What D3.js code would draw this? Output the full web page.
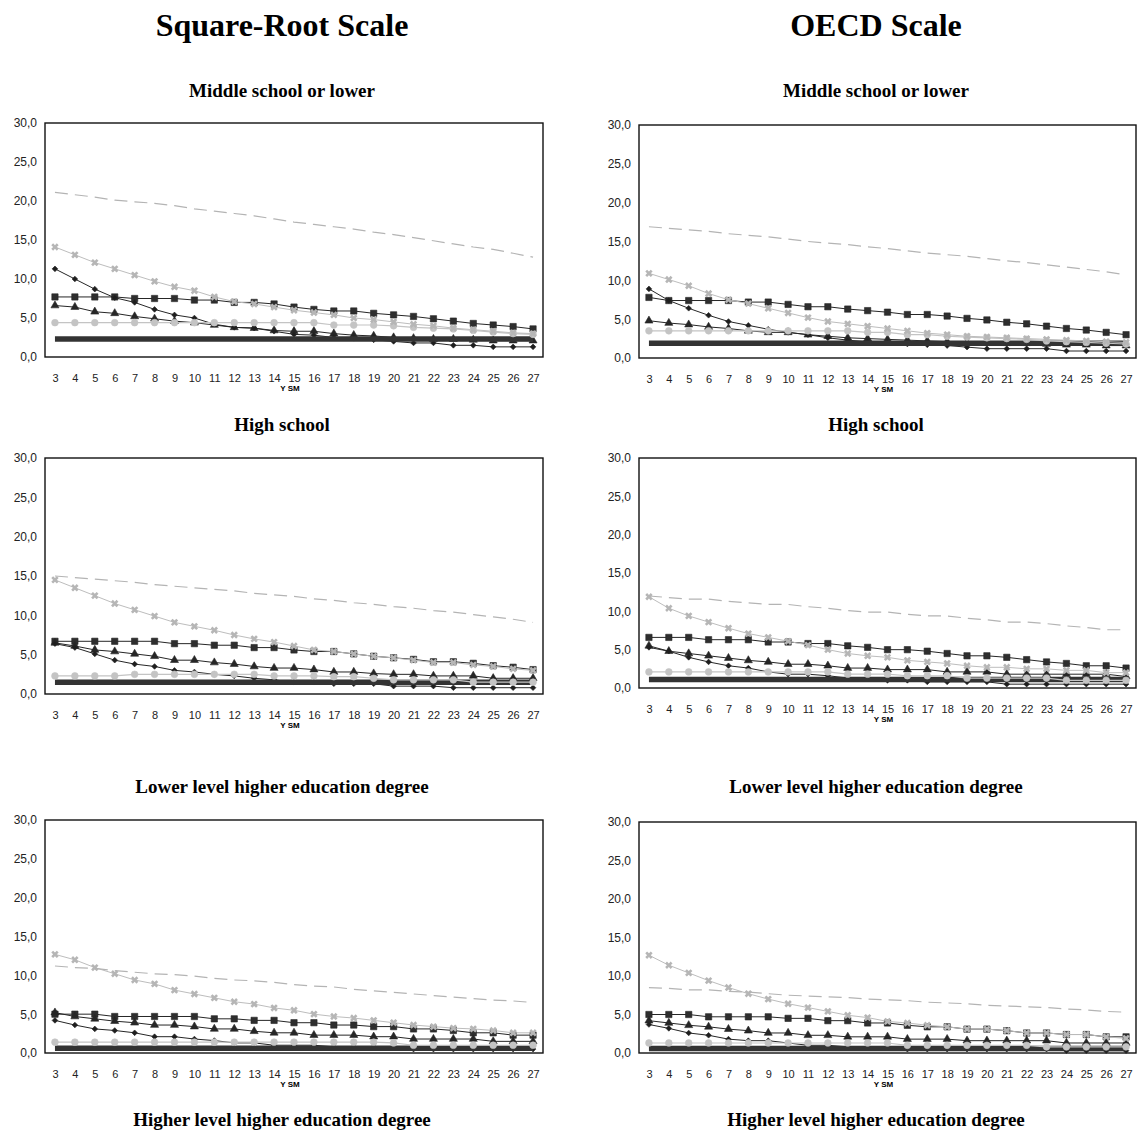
<!DOCTYPE html>
<html>
<head>
<meta charset="utf-8">
<script src="https://cdn.jsdelivr.net/npm/d3@7"></script>
<style>
  body { margin: 0; background: #fff; }
  svg { display: block; }
</style>
</head>
<body>
<svg width="1142" height="1135"></svg>
<script>
'use strict';

const years = [3, 4, 5, 6, 7, 8, 9, 10, 11, 12, 13, 14, 15, 16, 17, 18, 19, 20, 21, 22, 23, 24, 25, 26, 27];
const yTicks = [0, 5, 10, 15, 20, 25, 30];

const scaleTitles = ['Square-Root Scale', 'OECD Scale'];
const levelTitles = ['Middle school or lower', 'High school', 'Lower level higher education degree', 'Higher level higher education degree'];

// series order in every panel: dashed, cross, square, triangle, diamond, circle, thick
const seriesKeys = ['dash', 'cross', 'square', 'triangle', 'diamond', 'circle', 'thick'];

const srMiddle = [
	[21.1, 20.8, 20.5, 20.1, 19.9, 19.7, 19.4, 19.0, 18.7, 18.4, 18.1, 17.7, 17.3, 17.0, 16.7, 16.4, 16.0, 15.7, 15.3, 14.9, 14.5, 14.1, 13.8, 13.3, 12.8],
	[14.1, 13.1, 12.1, 11.3, 10.5, 9.7, 9.0, 8.5, 7.7, 7.1, 6.8, 6.4, 6.0, 5.7, 5.4, 5.0, 4.8, 4.5, 4.2, 4.0, 3.7, 3.5, 3.3, 3.1, 3.0],
	[7.7, 7.7, 7.7, 7.7, 7.5, 7.5, 7.5, 7.3, 7.3, 7.0, 7.0, 6.8, 6.4, 6.1, 5.9, 5.9, 5.6, 5.4, 5.2, 4.9, 4.6, 4.3, 4.1, 3.9, 3.6],
	[6.6, 6.4, 5.8, 5.6, 5.2, 4.9, 4.6, 4.4, 4.1, 3.8, 3.7, 3.4, 3.3, 3.3, 3.0, 2.8, 2.7, 2.5, 2.4, 2.3, 2.3, 2.2, 2.1, 2.1, 2.1],
	[11.3, 10.0, 8.7, 7.6, 7.0, 6.1, 5.4, 5.0, 4.2, 3.8, 3.7, 3.3, 2.9, 2.8, 2.5, 2.4, 2.2, 2.0, 1.8, 1.8, 1.5, 1.5, 1.3, 1.3, 1.3],
	[4.4, 4.4, 4.4, 4.4, 4.4, 4.4, 4.4, 4.4, 4.4, 4.4, 4.4, 4.4, 4.4, 4.4, 4.1, 4.1, 4.1, 4.0, 3.8, 3.7, 3.6, 3.4, 3.2, 3.0, 2.9],
	[2.3, 2.3, 2.3, 2.3, 2.3, 2.3, 2.3, 2.3, 2.3, 2.3, 2.3, 2.3, 2.3, 2.3, 2.3, 2.3, 2.3, 2.3, 2.3, 2.3, 2.3, 2.3, 2.3, 2.3, 2.3]
];

const oecdMiddle = [
	[16.9, 16.7, 16.5, 16.3, 16.0, 15.8, 15.6, 15.3, 15.0, 14.8, 14.6, 14.3, 14.1, 13.8, 13.5, 13.3, 13.1, 12.8, 12.5, 12.3, 12.0, 11.7, 11.4, 11.1, 10.7],
	[10.9, 10.1, 9.3, 8.3, 7.5, 7.0, 6.4, 5.8, 5.2, 4.7, 4.4, 4.1, 3.8, 3.5, 3.2, 3.0, 2.8, 2.7, 2.6, 2.5, 2.4, 2.3, 2.2, 2.1, 2.0],
	[7.8, 7.4, 7.4, 7.4, 7.4, 7.2, 7.2, 6.9, 6.6, 6.6, 6.3, 6.1, 5.9, 5.6, 5.6, 5.4, 5.1, 4.9, 4.6, 4.4, 4.1, 3.8, 3.6, 3.3, 3.0],
	[4.8, 4.5, 4.3, 4.0, 3.8, 3.5, 3.3, 3.3, 3.0, 2.8, 2.6, 2.5, 2.4, 2.3, 2.2, 2.1, 2.0, 2.0, 1.9, 1.9, 1.8, 1.7, 1.7, 1.6, 1.6],
	[8.9, 7.4, 6.4, 5.5, 4.7, 4.2, 3.7, 3.3, 3.0, 2.6, 2.3, 2.1, 2.0, 1.8, 1.7, 1.6, 1.4, 1.2, 1.2, 1.2, 1.2, 0.9, 0.9, 0.9, 0.9],
	[3.5, 3.5, 3.5, 3.5, 3.5, 3.5, 3.5, 3.5, 3.5, 3.5, 3.5, 3.3, 3.3, 3.0, 3.0, 2.8, 2.7, 2.6, 2.5, 2.4, 2.2, 2.1, 2.0, 1.9, 1.8],
	[1.9, 1.9, 1.9, 1.9, 1.9, 1.9, 1.9, 1.9, 1.9, 1.9, 1.9, 1.9, 1.9, 1.9, 1.9, 1.9, 1.9, 1.9, 1.9, 1.9, 1.9, 1.9, 1.9, 1.9, 1.9]
];

const srHigh = [
	[15.0, 14.8, 14.6, 14.4, 14.2, 13.9, 13.7, 13.5, 13.3, 13.1, 12.8, 12.6, 12.4, 12.1, 11.9, 11.6, 11.4, 11.1, 10.9, 10.6, 10.4, 10.1, 9.8, 9.5, 9.1],
	[14.5, 13.5, 12.5, 11.5, 10.7, 9.9, 9.1, 8.6, 8.1, 7.5, 7.0, 6.6, 6.1, 5.6, 5.4, 5.1, 4.8, 4.6, 4.3, 4.0, 4.0, 3.7, 3.5, 3.2, 3.0],
	[6.7, 6.7, 6.7, 6.7, 6.7, 6.7, 6.4, 6.4, 6.2, 6.2, 5.9, 5.9, 5.6, 5.4, 5.4, 5.1, 4.8, 4.6, 4.4, 4.1, 4.1, 3.9, 3.6, 3.4, 3.1],
	[6.5, 6.1, 5.6, 5.4, 5.1, 4.8, 4.3, 4.3, 4.0, 3.8, 3.5, 3.3, 3.3, 3.1, 2.8, 2.8, 2.6, 2.5, 2.5, 2.3, 2.3, 2.3, 2.0, 2.0, 2.0],
	[6.4, 5.9, 5.1, 4.3, 3.8, 3.5, 3.0, 2.8, 2.5, 2.3, 2.0, 1.8, 1.5, 1.5, 1.3, 1.3, 1.3, 1.0, 1.0, 1.0, 0.8, 0.8, 0.8, 0.8, 0.8],
	[2.3, 2.3, 2.3, 2.3, 2.5, 2.5, 2.5, 2.5, 2.5, 2.5, 2.5, 2.3, 2.3, 2.3, 2.2, 2.2, 2.0, 1.8, 1.8, 1.8, 1.8, 1.5, 1.5, 1.5, 1.5],
	[1.5, 1.5, 1.5, 1.5, 1.5, 1.5, 1.5, 1.5, 1.5, 1.5, 1.5, 1.5, 1.5, 1.5, 1.5, 1.5, 1.5, 1.5, 1.5, 1.5, 1.5, 1.5, 1.5, 1.5, 1.5]
];

const oecdHigh = [
	[12.0, 11.8, 11.6, 11.6, 11.3, 11.1, 10.9, 10.9, 10.6, 10.4, 10.1, 9.9, 9.9, 9.6, 9.4, 9.4, 9.1, 8.9, 8.6, 8.6, 8.4, 8.1, 7.9, 7.6, 7.6],
	[11.9, 10.4, 9.4, 8.6, 7.8, 7.1, 6.6, 6.1, 5.6, 5.0, 4.5, 4.2, 4.0, 3.6, 3.4, 3.2, 2.9, 2.7, 2.7, 2.5, 2.5, 2.3, 2.3, 2.0, 2.0],
	[6.6, 6.6, 6.6, 6.3, 6.3, 6.3, 6.0, 6.0, 5.8, 5.8, 5.5, 5.3, 5.0, 5.0, 4.8, 4.5, 4.2, 4.2, 4.0, 3.7, 3.4, 3.2, 2.9, 2.9, 2.6],
	[5.5, 4.8, 4.5, 4.2, 3.9, 3.6, 3.4, 3.1, 3.1, 2.9, 2.6, 2.6, 2.4, 2.4, 2.4, 2.1, 2.1, 2.1, 1.8, 1.8, 1.8, 1.8, 1.8, 1.8, 1.5],
	[5.3, 4.8, 4.0, 3.4, 2.9, 2.6, 2.1, 1.8, 1.8, 1.6, 1.3, 1.3, 1.0, 1.0, 0.8, 0.8, 0.8, 0.8, 0.5, 0.5, 0.5, 0.5, 0.5, 0.5, 0.5],
	[2.1, 2.1, 2.1, 2.1, 2.1, 2.1, 2.1, 2.1, 2.1, 2.1, 1.8, 1.8, 1.8, 1.6, 1.6, 1.6, 1.3, 1.3, 1.3, 1.3, 1.3, 1.0, 1.0, 1.0, 1.0],
	[1.1, 1.1, 1.1, 1.1, 1.1, 1.1, 1.1, 1.1, 1.1, 1.1, 1.1, 1.1, 1.1, 1.1, 1.1, 1.1, 1.1, 1.1, 1.1, 1.1, 1.1, 1.1, 1.1, 1.1, 1.1]
];

const srLower = [
	[11.2, 11.0, 10.9, 10.6, 10.4, 10.2, 10.1, 9.9, 9.6, 9.4, 9.3, 9.1, 8.8, 8.6, 8.5, 8.2, 8.0, 7.8, 7.6, 7.4, 7.2, 7.0, 6.8, 6.7, 6.5],
	[12.7, 12.0, 11.0, 10.2, 9.4, 8.9, 8.1, 7.6, 7.1, 6.6, 6.3, 5.8, 5.5, 5.0, 4.7, 4.5, 4.2, 3.9, 3.6, 3.4, 3.2, 3.1, 2.9, 2.6, 2.6],
	[5.0, 5.0, 5.0, 4.7, 4.7, 4.7, 4.7, 4.7, 4.4, 4.4, 4.2, 4.2, 3.9, 3.9, 3.6, 3.6, 3.4, 3.4, 3.1, 3.1, 2.9, 2.6, 2.6, 2.3, 2.3],
	[5.2, 4.7, 4.4, 4.1, 3.9, 3.6, 3.6, 3.4, 3.1, 3.1, 2.8, 2.6, 2.6, 2.3, 2.3, 2.3, 2.1, 2.1, 1.8, 1.8, 1.8, 1.8, 1.5, 1.5, 1.5],
	[4.2, 3.6, 3.1, 2.9, 2.6, 2.1, 2.1, 1.8, 1.6, 1.3, 1.3, 1.0, 1.0, 1.0, 0.8, 0.8, 0.8, 0.8, 0.5, 0.5, 0.5, 0.5, 0.5, 0.5, 0.5],
	[1.4, 1.4, 1.4, 1.4, 1.4, 1.4, 1.4, 1.4, 1.4, 1.4, 1.4, 1.4, 1.4, 1.4, 1.4, 1.4, 1.4, 1.3, 1.0, 1.0, 1.0, 1.0, 1.0, 1.0, 1.0],
	[0.6, 0.6, 0.6, 0.6, 0.6, 0.6, 0.6, 0.6, 0.6, 0.6, 0.6, 0.6, 0.6, 0.6, 0.6, 0.6, 0.6, 0.6, 0.6, 0.6, 0.6, 0.6, 0.6, 0.6, 0.6]
];

const oecdLower = [
	[8.5, 8.4, 8.2, 8.2, 8.0, 7.9, 7.7, 7.5, 7.4, 7.3, 7.2, 7.0, 6.9, 6.8, 6.6, 6.5, 6.4, 6.2, 6.1, 6.0, 5.9, 5.7, 5.6, 5.4, 5.3],
	[12.7, 11.4, 10.4, 9.4, 8.5, 7.7, 7.0, 6.4, 5.9, 5.4, 4.9, 4.6, 4.1, 3.9, 3.6, 3.4, 3.1, 3.1, 2.9, 2.6, 2.6, 2.4, 2.4, 2.1, 1.9],
	[5.0, 5.0, 5.0, 4.7, 4.7, 4.7, 4.7, 4.5, 4.5, 4.2, 4.2, 3.9, 3.9, 3.6, 3.4, 3.4, 3.1, 3.1, 2.9, 2.6, 2.6, 2.4, 2.4, 2.1, 2.1],
	[4.2, 3.9, 3.6, 3.4, 3.1, 2.9, 2.6, 2.6, 2.3, 2.3, 2.1, 2.1, 2.1, 1.8, 1.8, 1.8, 1.6, 1.6, 1.6, 1.6, 1.6, 1.3, 1.3, 1.3, 1.3],
	[3.7, 3.2, 2.6, 2.3, 1.8, 1.6, 1.6, 1.3, 1.0, 1.0, 0.8, 0.8, 0.8, 0.5, 0.5, 0.5, 0.5, 0.5, 0.5, 0.5, 0.5, 0.3, 0.3, 0.3, 0.3],
	[1.3, 1.3, 1.3, 1.3, 1.3, 1.3, 1.3, 1.3, 1.3, 1.3, 1.3, 1.3, 1.3, 1.0, 1.0, 1.0, 1.0, 1.0, 1.0, 1.0, 0.8, 0.8, 0.8, 0.8, 0.8],
	[0.6, 0.6, 0.6, 0.6, 0.6, 0.6, 0.6, 0.6, 0.6, 0.6, 0.6, 0.6, 0.6, 0.6, 0.6, 0.6, 0.6, 0.6, 0.6, 0.6, 0.6, 0.6, 0.6, 0.6, 0.6]
];

const panelData = [[srMiddle, oecdMiddle], [srHigh, oecdHigh], [srLower, oecdLower]];

// layout
const colLeft = [45, 639];
const colRight = [543, 1136];
const colTitleX = [282, 876];
const frameTop = [[123, 125], [458, 458], [820, 822]];
const frameBottom = [[357, 358], [694, 688], [1053, 1053]];
const levelTitleY = [97, 431, 793, 1126];

const svg = d3.select('svg');

const styles = {
	dash:     { stroke: '#b4b4b4', width: 1.2, dash: '13,7', symbol: null },
	cross:    { stroke: '#bdbdbd', width: 1, symbol: d3.symbolCross, size: 34, fill: '#b6b6b6', rotate: 45 },
	square:   { stroke: '#262626', width: 1, symbol: d3.symbolSquare, size: 40, fill: '#2e2e2e' },
	triangle: { stroke: '#262626', width: 1, symbol: d3.symbolTriangle, size: 28, fill: '#262626' },
	diamond:  { stroke: '#262626', width: 1, symbol: d3.symbolSquare, size: 16, fill: '#1e1e1e', rotate: 45 },
	circle:   { stroke: '#c4c4c4', width: 1.2, symbol: d3.symbolCircle, size: 36, fill: '#c4c4c4' },
	thick:    { stroke: '#333', width: 5.5, symbol: null }
};

// draw bottom to top
const drawOrder = ['square', 'triangle', 'diamond', 'thick', 'circle', 'cross', 'dash'];

// column titles
scaleTitles.forEach((t, c) => {
	svg.append('text')
		.attr('x', colTitleX[c])
		.attr('y', 36)
		.attr('text-anchor', 'middle')
		.style('font', 'bold 32px "Liberation Serif", serif')
		.text(t);
});

levelTitles.forEach((t, r) => {
	[0, 1].forEach(c => {
		svg.append('text')
			.attr('x', colTitleX[c])
			.attr('y', levelTitleY[r])
			.attr('text-anchor', 'middle')
			.style('font', 'bold 19px "Liberation Serif", serif')
			.text(t);
	});
});

function drawPanel(r, c) {
	const rows = panelData[r][c];
	const top = frameTop[r][c], bottom = frameBottom[r][c];
	const left = colLeft[c], right = colRight[c];

	const x = d3.scalePoint().domain(years).range([left, right]).padding(0.5);
	const y = d3.scaleLinear().domain([0, 30]).range([bottom, top]);

	const g = svg.append('g');

	// y axis labels
	const ya = g.append('g')
		.attr('transform', `translate(${left - 5},0)`)
		.call(d3.axisLeft(y).tickValues(yTicks).tickSize(0)
			.tickFormat(d => d3.format('.1f')(d).replace('.', ',')));
	ya.select('.domain').remove();
	ya.selectAll('text')
		.style('font', '12px "Liberation Sans", Arial, sans-serif')
		.attr('fill', '#222');

	// x axis labels
	const xa = g.append('g')
		.attr('transform', `translate(0,${bottom + 14})`)
		.call(d3.axisBottom(x).tickSize(0));
	xa.select('.domain').remove();
	xa.selectAll('text')
		.style('font', '11px "Liberation Sans", Arial, sans-serif')
		.attr('fill', '#222');

	g.append('text')
		.attr('x', (left + right) / 2 - 4)
		.attr('y', bottom + 34)
		.attr('text-anchor', 'middle')
		.style('font', 'bold 8px "Liberation Sans", Arial, sans-serif')
		.text('Y SM');

	// frame
	g.append('rect')
		.attr('x', left)
		.attr('y', top)
		.attr('width', right - left)
		.attr('height', bottom - top)
		.attr('fill', 'none')
		.attr('stroke', '#111')
		.attr('stroke-width', 1.4);

	const line = d3.line()
		.x((d, i) => x(years[i]))
		.y(d => y(d));

	drawOrder.forEach(key => {
		const vals = rows[seriesKeys.indexOf(key)];
		const s = styles[key];
		g.append('path')
			.datum(vals)
			.attr('d', line)
			.attr('fill', 'none')
			.attr('stroke', s.stroke)
			.attr('stroke-width', s.width)
			.attr('stroke-dasharray', s.dash || null);

		if (s.symbol) {
			const sym = d3.symbol().type(s.symbol).size(s.size);
			g.append('g').selectAll('path')
				.data(vals)
				.join('path')
				.attr('d', sym)
				.attr('transform', (d, i) => `translate(${x(years[i])},${y(d)})` + (s.rotate ? ` rotate(${s.rotate})` : ''))
				.attr('fill', s.fill)
				.attr('stroke', key === 'cross' ? 'none' : s.stroke)
				.attr('stroke-width', 0.6);
		}
	});
}

for (let r = 0; r < 3; r++) {
	for (let c = 0; c < 2; c++) {
		drawPanel(r, c);
	}
}
</script>
</body>
</html>
